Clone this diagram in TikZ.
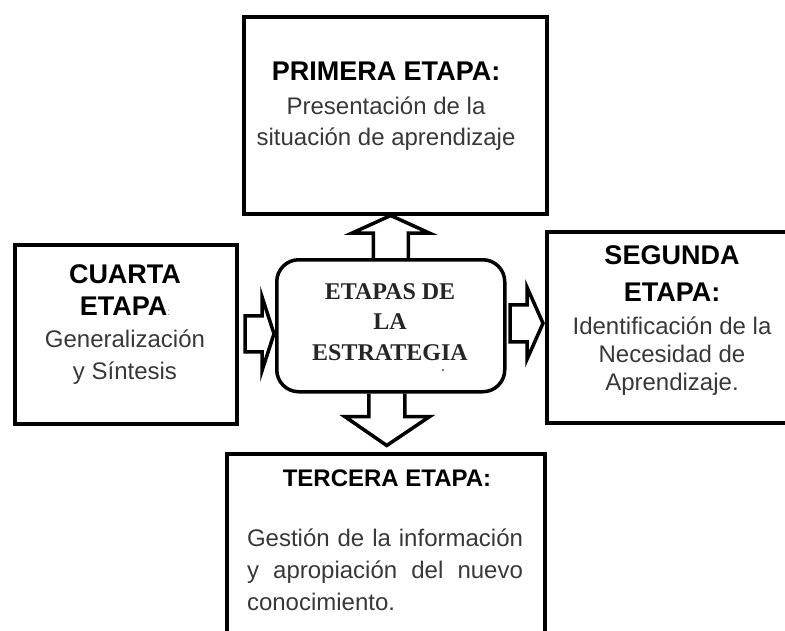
\documentclass[tikz,border=0pt]{standalone}
\usepackage{fontspec}
\setmainfont{Liberation Sans}
\newfontfamily\serifb{Liberation Serif}
\usetikzlibrary{calc}
\definecolor{bodytxt}{gray}{0.22}
\newcommand{\hdbig}[1]{{\fontsize{27}{31}\selectfont\bfseries #1}}
\begin{document}
\begin{tikzpicture}[x=1pt,y=-1pt,
  box/.style={draw=black,line width=3.5pt,rectangle,inner sep=0pt,anchor=north west},
  blk/.style={draw=black,line width=3.5pt,line join=miter},
  txt/.style={align=center,inner sep=0pt,font=\fontsize{24}{31}\selectfont}]
\useasboundingbox (0,0) rectangle (785,630);
\clip (0,0) rectangle (785,630);
% boxes
\node[box,minimum width=303pt,minimum height=197pt] (p1) at (242,15) {};
\node[box,minimum width=222pt,minimum height=179pt] (p4) at (13,243) {};
\node[box,minimum width=270pt,minimum height=191pt] (p2) at (545,230) {};
\node[box,minimum width=318pt,minimum height=220pt] (p3) at (225,452) {};
\node[draw=black,line width=3.5pt,rounded corners=22pt,minimum width=228pt,minimum height=132pt,anchor=north west,inner sep=0pt] (c) at (275,258) {};
% texts
\node[txt] (t1) at (386,106) {\hdbig{PRIMERA ETAPA:}\\[3pt]\color{bodytxt}Presentación de la\\\color{bodytxt}situación de aprendizaje};
\node[txt,font=\fontsize{24}{32}\selectfont] (t4) at (125,325) {\hdbig{CUARTA}\\\hdbig{ETAPA}{\color{gray}\fontsize{10}{10}\selectfont:}\\\color{bodytxt}Generalización\\\color{bodytxt}y Síntesis};
\node[txt,font=\fontsize{24}{28}\selectfont] (t2) at (672,321) {\hdbig{SEGUNDA}\\[9pt]\hdbig{ETAPA:}\\[5pt]\color{bodytxt}Identificación de la\\\color{bodytxt}Necesidad de\\\color{bodytxt}Aprendizaje.};
\node[txt] (t3h) at (387,478) {\textbf{TERCERA ETAPA:}};
\node[txt,align=left,font=\fontsize{24}{32}\selectfont,text=bodytxt] (t3) at (385,570) {\makebox[276pt][s]{Gestión de la información}\\\makebox[276pt][s]{y apropiación del nuevo}\\\makebox[276pt][l]{conocimiento.}};
\node[txt,font=\fontsize{24}{30.5}\selectfont\serifb\bfseries,text=black!85] (tc) at (390,322) {ETAPAS DE\\LA\\ESTRATEGIA};
\fill[black!70] (443,370) circle (1.2pt);
% block arrows
% up
\draw[blk] ($(c.north)+(-17.5,0)$) -- ($(c.north)+(-17.5,-25)$) -- ($(c.north)+(-38.5,-25)$) -- (c.north |- p1.south) -- ($(c.north)+(38.5,-25)$) -- ($(c.north)+(17.5,-25)$) -- ($(c.north)+(17.5,0)$);
% down
\coordinate (d0) at ($(c.south)+(-4,0)$);
\draw[blk] ($(d0)+(-18,0)$) -- ($(d0)+(-18,23)$) -- ($(d0)+(-42,23)$) -- ($(d0)+(0,52)$) -- ($(d0)+(43,23)$) -- ($(d0)+(18,23)$) -- ($(d0)+(18,0)$);
% left -> center
\coordinate (l0) at ($(c.west)+(-1,8)$);
\draw[blk] ($(l0)+(-29,-18)$) -- ($(l0)+(-12,-18)$) -- ($(l0)+(-12,-37)$) -- (l0) -- ($(l0)+(-12,37)$) -- ($(l0)+(-12,18)$) -- ($(l0)+(-29,18)$) -- cycle;
% center -> right
\coordinate (r0) at ($(p2.west |- c.east)+(-2,-2.5)$);
\draw[blk] ($(r0)+(-33,-18.5)$) -- ($(r0)+(-16,-18.5)$) -- ($(r0)+(-16,-36)$) -- (r0) -- ($(r0)+(-16,36)$) -- ($(r0)+(-16,18.5)$) -- ($(r0)+(-33,18.5)$) -- cycle;
\end{tikzpicture}
\end{document}
